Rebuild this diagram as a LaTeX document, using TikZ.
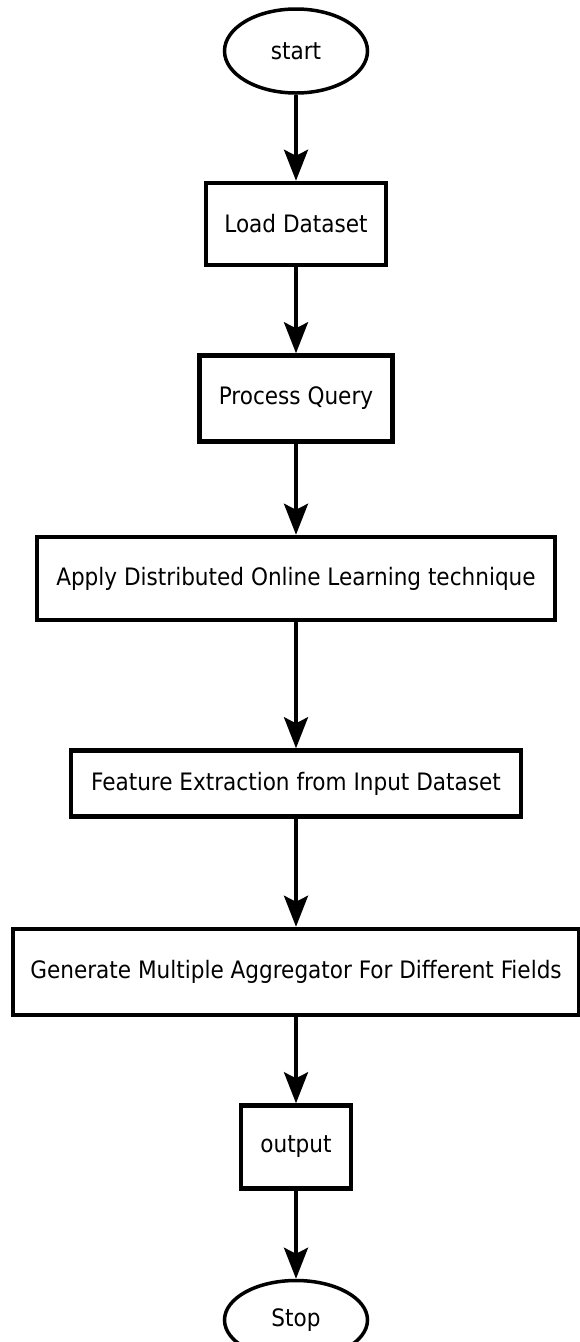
\documentclass[tikz,border=0pt]{standalone}
\usepackage{fontspec}
\setmainfont{DejaVu Sans Condensed}
\usepackage{tikz}
\usetikzlibrary{arrows.meta,positioning,shapes.geometric}

\begin{document}
\begin{tikzpicture}[
  x=1pt,y=1pt,
  font=\fontsize{24}{29}\selectfont,
  box/.style={rectangle,draw,line width=4.5pt,align=center,inner sep=3pt},
  term/.style={ellipse,draw,line width=3.5pt,minimum width=143pt,minimum height=84pt},
  flow/.style={-{Stealth[length=31pt,width=24pt,inset=6pt]},line width=3.5pt}]
\useasboundingbox (0,0) rectangle (580,-1342);
\node[term] (start) at (296,-51) {start};
\node[box,minimum width=180pt,minimum height=82pt,below=86pt of start] (load) {Load Dataset};
\node[box,minimum width=193pt,minimum height=86pt,below=86pt of load] (query) {Process Query};
\node[box,minimum width=518pt,minimum height=83pt,below=91pt of query] (apply) {Apply Distributed Online Learning technique};
\node[box,minimum width=450pt,minimum height=66pt,below=126pt of apply] (feat) {Feature Extraction from Input Dataset};
\node[box,minimum width=566pt,minimum height=86pt,below=108pt of feat] (aggr) {Generate Multiple Aggregator For Different Fields};
\node[box,minimum width=110pt,minimum height=83pt,below=86pt of aggr] (output) {output};
\node[term,minimum height=79pt,below=88pt of output] (stop) {Stop};
\draw[flow] (start) -- (load);
\draw[flow] (load) -- (query);
\draw[flow] (query) -- (apply);
\draw[flow] (apply) -- (feat);
\draw[flow] (feat) -- (aggr);
\draw[flow] (aggr) -- (output);
\draw[flow] (output) -- (stop);
\end{tikzpicture}
\end{document}
